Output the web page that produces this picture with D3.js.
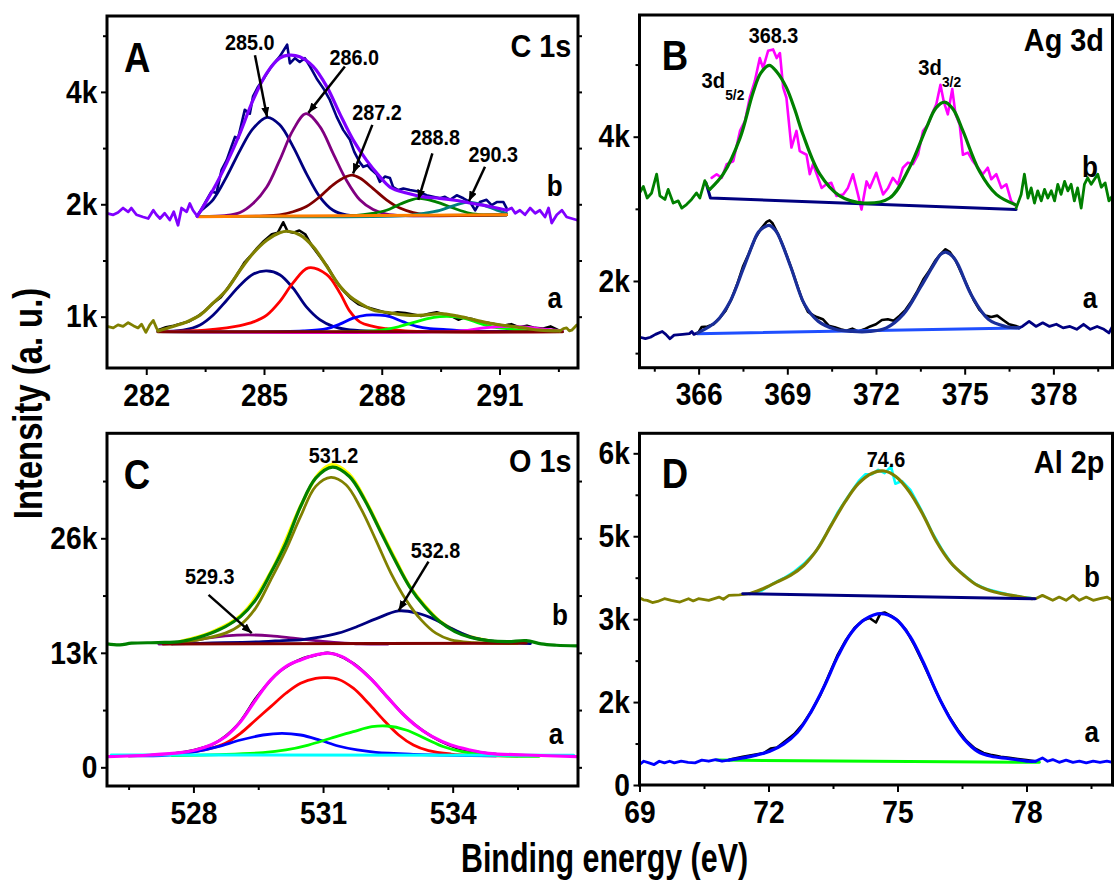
<!DOCTYPE html>
<html>
<head>
<meta charset="utf-8">
<title>XPS spectra</title>
<script src="https://cdn.jsdelivr.net/npm/d3@7"></script>
<style>
  body { margin: 0; background: #fff; }
  text { font-family: "Liberation Sans", Arial, sans-serif; font-weight: bold; fill: #000; }
</style>
</head>
<body>
<div class="chart"></div>
<script>

// ---------- C 1s (panel A), intensities in k counts ----------
var xTicksA = [282, 285, 288, 291], xMinorA = [283.5, 286.5, 289.5, 292.5];
var yTicksA = [1, 2.5, 4], yLabelsA = ["1k", "2k", "4k"], yMinorA = [1.75, 3.25, 4.75];

var c1sB_edgeL = [[281.00,2.38],[281.16,2.36],[281.28,2.39],[281.41,2.45],[281.54,2.40],[281.62,2.45],[281.75,2.36],[281.92,2.33],[282.05,2.31],[282.18,2.42],[282.26,2.36],[282.35,2.31],[282.47,2.38],[282.60,2.29],[282.70,2.40],[282.81,2.22],[282.90,2.45],[283.03,2.40],[283.11,2.51],[283.19,2.42],[283.30,2.34]];
var c1sB_edgeR = [[291.18,2.42],[291.31,2.45],[291.40,2.38],[291.52,2.42],[291.65,2.36],[291.78,2.45],[291.91,2.38],[292.03,2.42],[292.16,2.33],[292.25,2.45],[292.33,2.25],[292.46,2.36],[292.59,2.42],[292.71,2.33],[292.84,2.31],[292.97,2.29]];
var c1sB_raw = [[283.30,2.34],[283.37,2.40],[283.54,2.56],[283.66,2.67],[283.79,2.65],[283.92,2.96],[284.05,3.09],[284.17,3.27],[284.26,3.40],[284.34,3.38],[284.51,3.76],[284.64,3.71],[284.72,3.94],[284.85,4.07],[285.02,4.20],[285.19,4.34],[285.40,4.47],[285.53,4.58],[285.59,4.63],[285.66,4.38],[285.79,4.45],[285.91,4.40],[286.04,4.45],[286.17,4.34],[286.34,4.18],[286.51,4.05],[286.68,3.89],[286.85,3.67],[287.02,3.49],[287.19,3.36],[287.30,3.20],[287.44,3.06],[287.53,3.00],[287.64,3.02],[287.74,2.96],[287.87,2.90],[287.95,2.80],[288.08,2.87],[288.21,2.85],[288.29,2.73],[288.42,2.69],[288.55,2.71],[288.72,2.69],[288.93,2.67],[289.14,2.62],[289.31,2.60],[289.48,2.58],[289.61,2.60],[289.74,2.56],[289.91,2.62],[290.08,2.58],[290.25,2.53],[290.38,2.42],[290.50,2.53],[290.67,2.56],[290.80,2.49],[290.93,2.53],[291.10,2.53],[291.18,2.45]];
var c1sB_env = [[283.30,2.34],[283.37,2.40],[283.70,2.69],[284.05,3.05],[284.39,3.45],[284.72,3.89],[285.07,4.25],[285.40,4.45],[285.62,4.49],[285.91,4.47],[286.25,4.34],[286.60,4.07],[286.93,3.71],[287.27,3.36],[287.61,3.09],[287.95,2.87],[288.21,2.73],[288.63,2.65],[289.06,2.60],[289.48,2.58],[289.91,2.55],[290.33,2.51],[290.76,2.47],[291.18,2.42]];
var c1sB_base = [[283.30,2.335],[291.18,2.36]];
var c1sB_p285 = [[283.30,2.34],[283.37,2.40],[283.70,2.56],[284.05,2.87],[284.39,3.22],[284.72,3.51],[285.08,3.66],[285.40,3.56],[285.74,3.27],[286.08,2.91],[286.42,2.60],[286.76,2.42],[287.10,2.36],[287.44,2.35],[288.00,2.345],[291.18,2.36]];
var c1sB_p286 = [[283.30,2.34],[284.00,2.35],[284.39,2.39],[284.72,2.51],[285.07,2.73],[285.40,3.09],[285.74,3.49],[286.07,3.71],[286.42,3.54],[286.76,3.18],[287.10,2.82],[287.44,2.56],[287.78,2.43],[288.12,2.37],[288.60,2.35],[291.18,2.36]];
var c1sB_p287 = [[283.30,2.34],[285.00,2.345],[285.40,2.36],[285.74,2.40],[286.08,2.47],[286.42,2.60],[286.76,2.76],[287.10,2.87],[287.25,2.89],[287.44,2.85],[287.78,2.71],[288.12,2.56],[288.46,2.45],[288.80,2.39],[289.14,2.36],[289.60,2.35],[291.18,2.36]];
var c1sB_p288 = [[283.30,2.34],[287.30,2.35],[287.78,2.38],[288.12,2.42],[288.46,2.50],[288.93,2.58],[289.40,2.53],[289.82,2.45],[290.25,2.38],[290.59,2.36],[291.18,2.36]];
var c1sB_p290 = [[283.30,2.34],[288.60,2.35],[289.06,2.38],[289.48,2.42],[289.82,2.48],[290.20,2.53],[290.59,2.49],[290.93,2.42],[291.18,2.38]];

var c1sA_edgeL = [[281.00,0.87],[281.16,0.85],[281.28,0.89],[281.41,0.87],[281.54,0.92],[281.67,0.88],[281.79,0.85],[281.88,0.90],[281.99,0.79],[282.09,0.89],[282.18,0.95],[282.26,0.85],[282.30,0.81]];
var c1sA_edgeR = [[292.54,0.81],[292.63,0.84],[292.71,0.85],[292.78,0.81],[292.84,0.82],[292.97,0.89]];
var c1sA_raw = [[282.30,0.82],[282.50,0.86],[282.70,0.88],[282.90,0.91],[283.10,0.94],[283.30,1.00],[283.50,1.08],[283.70,1.18],[283.90,1.26],[284.10,1.40],[284.30,1.55],[284.50,1.72],[284.64,1.80],[284.80,1.90],[285.00,2.01],[285.20,2.10],[285.35,2.12],[285.49,2.26],[285.60,2.14],[285.75,2.12],[285.90,2.15],[286.05,2.10],[286.20,1.96],[286.40,1.82],[286.60,1.68],[286.80,1.50],[287.00,1.36],[287.20,1.25],[287.40,1.17],[287.60,1.13],[287.80,1.10],[288.00,1.07],[288.20,1.04],[288.40,1.06],[288.60,1.05],[288.80,1.03],[289.00,1.01],[289.20,1.04],[289.40,1.06],[289.60,1.03],[289.80,1.00],[289.95,0.96],[290.10,0.99],[290.30,0.97],[290.50,0.93],[290.70,0.92],[290.90,0.90],[291.10,0.88],[291.30,0.90],[291.50,0.86],[291.70,0.88],[291.90,0.85],[292.10,0.84],[292.30,0.87],[292.50,0.82]];
var c1sA_env = [[282.30,0.81],[282.68,0.87],[283.03,0.93],[283.37,1.02],[283.70,1.18],[284.05,1.36],[284.39,1.62],[284.73,1.85],[285.07,2.02],[285.40,2.12],[285.60,2.14],[285.92,2.09],[286.26,1.93],[286.60,1.67],[286.93,1.41],[287.19,1.27],[287.44,1.18],[287.78,1.09],[288.21,1.05],[288.63,1.02],[289.06,1.02],[289.48,1.04],[289.91,1.01],[290.33,0.96],[290.76,0.91],[291.18,0.88],[291.61,0.85],[292.03,0.82],[292.54,0.81]];
var c1sA_base = [[282.30,0.80],[292.60,0.80]];
var c1sA_p1 = [[282.30,0.80],[282.94,0.82],[283.37,0.89],[283.70,1.02],[284.05,1.22],[284.39,1.42],[284.73,1.57],[285.07,1.61],[285.40,1.56],[285.74,1.38],[286.08,1.13],[286.42,0.96],[286.76,0.87],[287.10,0.83],[287.60,0.81],[292.60,0.80]];
var c1sA_p2 = [[282.30,0.80],[283.50,0.82],[284.05,0.85],[284.39,0.88],[284.73,0.93],[285.07,1.02],[285.40,1.20],[285.74,1.45],[286.13,1.65],[286.60,1.56],[286.93,1.32],[287.19,1.07],[287.44,0.93],[287.78,0.87],[288.12,0.84],[288.60,0.81],[292.60,0.80]];
var c1sA_p3 = [[282.30,0.80],[286.00,0.81],[286.60,0.84],[286.93,0.90],[287.27,0.98],[287.61,1.02],[287.95,1.02],[288.21,1.00],[288.55,0.93],[288.89,0.87],[289.23,0.84],[289.57,0.83],[290.20,0.81],[292.60,0.80]];
var c1sA_p4 = [[282.30,0.80],[287.80,0.81],[288.21,0.84],[288.46,0.87],[288.80,0.92],[289.14,0.97],[289.48,1.00],[289.82,1.00],[290.16,0.97],[290.50,0.91],[290.84,0.86],[291.18,0.84],[291.70,0.81],[292.60,0.80]];
var c1sA_p5 = [[282.30,0.80],[290.00,0.81],[290.59,0.85],[291.18,0.87],[291.69,0.86],[292.20,0.83],[292.60,0.81]];

var peakTextA = ["285.0", "286.0", "287.2", "288.8", "290.3"];
var peakPosA = [[284.64,4.56],[287.30,4.36],[287.88,3.63],[289.36,3.29],[290.84,3.07]];
var arrowsA = [[284.77,4.49,285.08,3.66],[287.06,4.34,286.13,3.72],[287.76,3.56,287.27,2.91],[289.29,3.18,288.93,2.56],[290.63,3.00,290.22,2.54]];

// ---------- Ag 3d (panel B) ----------
var xTicksB = [366, 369, 372, 375, 378], xMinorB = [364.5, 367.5, 370.5, 373.5, 376.5, 379.5];
var yTicksB = [2, 4], yLabelsB = ["2k", "4k"], yMinorB = [1, 3, 5];

var ag3dB_edgeL = [[364.00,3.22],[364.13,3.31],[364.26,3.15],[364.41,3.22],[364.58,3.48],[364.69,3.18],[364.86,3.13],[364.97,3.27],[365.14,3.08],[365.31,3.11],[365.43,3.01],[365.59,3.06],[365.76,3.13],[365.93,3.22],[366.04,3.15],[366.21,3.39],[366.32,3.29],[366.38,3.27]];
var ag3dB_raw = [[366.44,3.43],[366.61,3.48],[366.78,3.43],[366.95,3.62],[367.17,3.66],[367.40,4.08],[367.57,4.22],[367.73,4.54],[367.90,4.77],[368.07,5.09],[368.18,4.95],[368.35,5.19],[368.52,5.21],[368.64,5.09],[368.75,5.16],[368.86,4.68],[368.97,4.54],[369.14,3.85],[369.31,4.08],[369.42,3.80],[369.65,3.75],[369.76,3.48],[369.87,3.62],[370.04,3.43],[370.16,3.29],[370.32,3.34],[370.49,3.36],[370.66,3.18],[370.89,3.20],[371.05,3.29],[371.22,3.48],[371.39,3.20],[371.51,2.99],[371.68,3.38],[371.79,3.29],[372.01,3.50],[372.13,3.34],[372.24,3.20],[372.41,3.29],[372.57,3.43],[372.74,3.34],[372.91,3.57],[373.08,3.64],[373.25,3.62],[373.42,3.75],[373.59,4.08],[373.76,4.17],[373.93,4.35],[374.04,4.45],[374.18,4.72],[374.29,4.49],[374.43,4.31],[374.58,4.66],[374.69,4.31],[374.83,4.17],[374.94,3.75],[375.11,3.78],[375.28,3.66],[375.45,3.57],[375.61,3.48],[375.78,3.57],[375.90,3.41],[376.07,3.48],[376.24,3.29],[376.41,3.34],[376.57,3.11],[376.70,3.05]];
var ag3dB_fit = [[366.38,3.27],[366.83,3.48],[367.40,3.98],[367.84,4.61],[368.10,4.88],[368.39,4.99],[368.64,4.90],[368.97,4.68],[369.25,4.38],[369.53,4.03],[370.10,3.48],[370.77,3.18],[371.60,3.08],[372.46,3.15],[373.13,3.57],[373.70,4.12],[374.03,4.40],[374.32,4.48],[374.61,4.38],[374.94,4.08],[375.50,3.52],[376.07,3.20],[376.70,3.06]];
var ag3dB_edgeR = [[376.74,3.01],[376.91,3.20],[377.02,3.48],[377.14,3.15],[377.25,3.29],[377.36,3.08],[377.47,3.25],[377.59,3.11],[377.70,3.27],[377.81,3.15],[377.93,3.25],[378.04,3.11],[378.15,3.34],[378.26,3.20],[378.38,3.38],[378.49,3.25],[378.60,3.34],[378.71,3.11],[378.82,3.29],[378.94,3.01],[379.05,3.34],[379.16,3.43],[379.28,3.34],[379.39,3.41],[379.50,3.48],[379.62,3.30],[379.75,3.36],[379.88,3.11],[380.00,3.18]];
var ag3dB_base = [[366.25,3.36],[366.40,3.15],[376.74,2.99]];

var ag3dA_edgeL = [[364.02,1.22],[364.20,1.20],[364.37,1.22],[364.54,1.26],[364.77,1.30],[364.89,1.26],[365.03,1.20],[365.17,1.25],[365.46,1.26],[365.69,1.27],[365.77,1.30],[365.84,1.26],[365.95,1.28]];
var ag3dA_raw = [[366.00,1.29],[366.10,1.36],[366.30,1.37],[366.50,1.40],[366.70,1.48],[366.90,1.58],[367.10,1.74],[367.30,1.95],[367.50,2.20],[367.70,2.38],[367.90,2.58],[368.10,2.72],[368.30,2.82],[368.40,2.84],[368.50,2.80],[368.70,2.64],[368.90,2.44],[369.10,2.22],[369.30,1.98],[369.50,1.74],[369.70,1.57],[369.90,1.52],[370.00,1.50],[370.20,1.47],[370.40,1.38],[370.60,1.36],[370.80,1.33],[371.00,1.31],[371.20,1.34],[371.40,1.30],[371.60,1.33],[371.80,1.37],[372.00,1.40],[372.20,1.46],[372.40,1.47],[372.60,1.45],[372.80,1.52],[373.00,1.60],[373.20,1.72],[373.40,1.86],[373.60,2.02],[373.80,2.14],[374.00,2.28],[374.20,2.38],[374.35,2.44],[374.50,2.40],[374.70,2.28],[374.90,2.10],[375.10,1.92],[375.30,1.74],[375.50,1.60],[375.70,1.52],[375.90,1.50],[376.10,1.52],[376.30,1.46],[376.50,1.40],[376.70,1.38],[376.85,1.36]];
var ag3dA_fit = [[365.97,1.28],[366.60,1.44],[367.07,1.72],[367.52,2.18],[367.98,2.65],[368.10,2.71],[368.39,2.77],[368.62,2.69],[368.79,2.55],[369.13,2.18],[369.59,1.67],[370.05,1.44],[370.63,1.33],[371.20,1.30],[371.78,1.30],[372.35,1.35],[372.93,1.54],[373.50,1.91],[373.96,2.23],[374.19,2.37],[374.36,2.40],[374.59,2.34],[374.77,2.23],[375.22,1.81],[375.80,1.47],[376.38,1.37],[376.83,1.35]];
var ag3dA_edgeR = [[376.83,1.35],[376.95,1.37],[377.18,1.44],[377.41,1.37],[377.64,1.42],[377.87,1.37],[378.10,1.40],[378.33,1.35],[378.56,1.37],[378.79,1.33],[379.02,1.40],[379.25,1.33],[379.48,1.37],[379.71,1.33],[379.88,1.28],[380.00,1.37]];
var ag3dA_base = [[365.95,1.27],[376.85,1.35]];

// ---------- O 1s (panel C) ----------
var xTicksC = [528, 531, 534], xMinorC = [526.5, 529.5, 532.5, 535.5];
var yTicksC = [0, 13, 26], yLabelsC = ["0", "13k", "26k"], yMinorC = [6.5, 19.5, 32.5];

var o1sB_raw = [[527.70,14.30],[528.40,15.30],[529.10,17.25],[529.80,22.25],[530.50,29.85],[530.90,33.35],[531.20,34.35],[531.60,33.30],[532.00,30.15],[532.30,27.20],[532.70,23.35],[533.00,20.60],[533.40,18.10],[533.70,16.60],[534.10,15.40],[534.40,14.85],[534.80,14.40]];
var o1sB_env = [[526.00,14.01],[526.30,13.90],[526.57,14.09],[527.18,14.16],[527.70,14.27],[528.05,14.66],[528.40,15.23],[528.74,15.98],[529.09,17.11],[529.44,19.01],[529.79,22.05],[530.14,25.46],[530.48,29.61],[530.83,32.84],[531.22,34.09],[531.61,33.02],[531.96,30.38],[532.31,26.97],[532.66,23.56],[533.00,20.52],[533.35,18.25],[533.70,16.55],[534.05,15.41],[534.40,14.77],[534.83,14.39],[535.27,14.27],[535.70,14.39],[536.05,14.01],[536.40,13.86],[536.89,13.78]];
var o1sB_p531 = [[527.50,14.02],[528.05,14.40],[528.74,15.23],[529.09,16.17],[529.44,18.07],[529.79,21.28],[530.14,24.69],[530.48,28.48],[530.83,31.89],[531.18,32.91],[531.53,32.08],[531.87,29.43],[532.22,25.83],[532.57,22.05],[532.92,19.01],[533.27,16.74],[533.61,15.23],[533.96,14.47],[534.48,14.16],[534.83,14.09],[535.50,14.05]];
var o1sB_p532 = [[527.50,14.02],[529.61,14.27],[530.06,14.39],[530.48,14.47],[530.92,14.77],[531.35,15.23],[531.79,15.98],[532.22,16.85],[532.75,17.76],[533.18,17.50],[533.61,16.74],[533.96,15.80],[534.40,14.84],[534.83,14.39],[535.27,14.16],[535.80,14.05]];
var o1sB_p529 = [[527.20,14.00],[527.44,14.05],[527.87,14.27],[528.31,14.66],[528.74,14.92],[529.27,15.03],[529.79,14.92],[530.31,14.66],[530.83,14.39],[531.35,14.16],[531.87,14.01],[532.50,13.98]];
var o1sB_base = [[527.30,14.00],[535.70,14.10]];

var o1sA_raw = [[527.50,1.55],[528.00,1.95],[528.50,2.75],[529.00,4.70],[529.50,8.20],[530.00,10.90],[530.50,12.30],[530.90,12.80],[531.10,13.00],[531.30,12.80],[531.70,11.80],[532.10,10.10],[532.50,7.90],[532.90,5.80],[533.30,4.20],[533.70,3.00],[534.10,2.20],[534.50,1.80],[535.00,1.50]];
var o1sA_env = [[526.00,1.21],[527.00,1.40],[527.70,1.66],[528.05,1.97],[528.40,2.53],[528.74,3.48],[529.09,5.18],[529.44,7.65],[529.79,9.92],[530.14,11.43],[530.48,12.19],[530.83,12.76],[531.14,12.95],[531.44,12.57],[531.79,11.43],[532.13,9.92],[532.48,8.02],[532.83,6.14],[533.18,4.61],[533.53,3.48],[533.96,2.53],[534.40,1.97],[534.83,1.59],[535.70,1.40],[536.89,1.21]];
var o1sA_p1 = [[526.50,1.30],[527.70,1.59],[528.40,2.16],[528.74,2.73],[529.09,3.86],[529.44,5.38],[529.79,6.89],[530.14,8.41],[530.48,9.55],[530.83,10.11],[531.09,10.18],[531.35,10.00],[531.70,8.98],[532.05,7.27],[532.40,5.38],[532.75,3.67],[533.09,2.53],[533.44,1.89],[533.96,1.51],[534.48,1.36],[535.50,1.30]];
var o1sA_p2 = [[526.50,1.30],[527.44,1.40],[528.05,1.77],[528.57,2.34],[529.09,3.10],[529.61,3.67],[530.05,3.86],[530.48,3.67],[530.92,3.10],[531.35,2.42],[531.79,1.97],[532.22,1.70],[533.09,1.48],[534.00,1.36],[535.00,1.30]];
var o1sA_p3 = [[527.50,1.34],[528.60,1.45],[529.61,1.66],[530.14,1.97],[530.66,2.53],[531.18,3.30],[531.70,4.05],[532.13,4.61],[532.48,4.69],[532.92,4.24],[533.35,3.30],[533.79,2.34],[534.22,1.77],[534.66,1.48],[535.27,1.28],[536.00,1.25]];
var o1sA_base = [[526.10,1.40],[536.80,1.36]];

var peakTextC = ["531.2", "529.3", "532.8"];
var peakPosC = [[531.24,34.58],[528.38,20.78],[533.60,23.80]];
var arrowsC = [[528.35,19.58,529.35,15.23],[533.44,23.36,532.75,17.80]];

// ---------- Al 2p (panel D) ----------
var xTicksD = [69, 72, 75, 78], xMinorD = [70.5, 73.5, 76.5, 79.5];
var yTicksD = [0, 1.5, 3, 4.5, 6], yLabelsD = ["0", "2k", "3k", "5k", "6k"], yMinorD = [0.75, 2.25, 3.75, 5.25];

var al2pB_edgeL = [[69.00,3.39],[69.09,3.35],[69.18,3.34],[69.30,3.30],[69.42,3.32],[69.58,3.37],[69.74,3.34],[69.94,3.31],[70.14,3.37],[70.25,3.33],[70.37,3.37],[70.61,3.34],[70.85,3.40],[70.95,3.36],[71.08,3.43],[71.32,3.44],[71.56,3.46]];
var al2pB_raw = [[71.60,3.47],[71.85,3.52],[72.10,3.64],[72.35,3.74],[72.60,3.86],[72.85,4.02],[73.10,4.22],[73.35,4.55],[73.60,4.92],[73.85,5.22],[74.10,5.50],[74.25,5.62],[74.40,5.62],[74.55,5.70],[74.70,5.64],[74.85,5.76],[74.95,5.45],[75.10,5.50],[75.30,5.34],[75.55,4.98],[75.80,4.58],[76.05,4.24],[76.30,3.96],[76.55,3.80],[76.80,3.64],[77.05,3.55],[77.30,3.50],[77.60,3.44],[77.90,3.40],[78.10,3.38]];
var al2pB_fit = [[71.56,3.46],[71.87,3.55],[72.19,3.67],[72.51,3.79],[72.82,3.97],[73.14,4.27],[73.46,4.70],[73.78,5.12],[74.09,5.45],[74.41,5.64],[74.69,5.68],[74.96,5.58],[75.28,5.30],[75.60,4.88],[75.91,4.40],[76.23,4.03],[76.55,3.79],[76.86,3.61],[77.26,3.49],[77.66,3.43],[78.13,3.37]];
var al2pB_edgeR = [[78.13,3.37],[78.21,3.37],[78.37,3.43],[78.61,3.34],[78.76,3.40],[78.92,3.34],[79.08,3.43],[79.23,3.34],[79.39,3.40],[79.55,3.34],[79.71,3.37],[79.87,3.40],[80.00,3.34]];
var al2pB_base = [[71.40,3.46],[78.20,3.37]];

var al2pA_edgeL = [[69.00,0.37],[69.10,0.43],[69.22,0.40],[69.34,0.37],[69.46,0.43],[69.58,0.40],[69.70,0.43],[69.81,0.40],[69.97,0.43],[70.13,0.41],[70.29,0.40],[70.45,0.45],[70.61,0.43],[70.77,0.46],[70.92,0.43],[71.08,0.45]];
var al2pA_raw = [[71.10,0.46],[71.40,0.51],[71.70,0.55],[71.90,0.58],[72.05,0.66],[72.20,0.68],[72.40,0.80],[72.60,0.92],[72.80,1.10],[73.00,1.34],[73.20,1.62],[73.40,1.98],[73.60,2.34],[73.80,2.62],[74.00,2.84],[74.20,2.98],[74.35,3.02],[74.50,2.94],[74.60,3.10],[74.70,3.12],[74.85,3.06],[75.00,2.98],[75.20,2.80],[75.40,2.52],[75.60,2.20],[75.80,1.86],[76.00,1.52],[76.20,1.24],[76.40,1.00],[76.60,0.80],[76.80,0.66],[77.00,0.58],[77.20,0.54],[77.40,0.51],[77.60,0.49],[77.80,0.47],[78.00,0.45],[78.20,0.43]];
var al2pA_fit = [[71.08,0.45],[71.40,0.49],[71.72,0.54],[72.03,0.61],[72.35,0.74],[72.67,0.95],[72.98,1.31],[73.30,1.79],[73.62,2.34],[73.93,2.76],[74.25,3.00],[74.61,3.10],[74.96,3.00],[75.28,2.70],[75.60,2.22],[75.91,1.67],[76.23,1.19],[76.55,0.83],[76.86,0.61],[77.18,0.52],[77.57,0.48],[78.05,0.43],[78.21,0.43]];
var al2pA_edgeR = [[78.21,0.43],[78.37,0.49],[78.49,0.43],[78.61,0.46],[78.76,0.41],[78.92,0.45],[79.08,0.41],[79.23,0.43],[79.39,0.40],[79.55,0.43],[79.71,0.41],[79.87,0.43],[80.00,0.41]];
var al2pA_base = [[70.80,0.45],[78.30,0.41]];

// ---------- drawing ----------
var W = 1114, H = 881;
var svg = d3.select(".chart").append("svg").attr("width", W).attr("height", H);

svg.append("defs").append("marker")
	.attr("id", "arrowhead")
	.attr("viewBox", "0 0 10 8")
	.attr("refX", 10).attr("refY", 4)
	.attr("markerWidth", 10).attr("markerHeight", 8)
	.attr("markerUnits", "userSpaceOnUse")
	.attr("orient", "auto")
	.append("path").attr("d", "M0,0L10,4L0,8Z").attr("fill", "#000");

// text squeezed horizontally like the original figure
function addText(parent, px, py, str, size, sx, anchor) {
	return parent.append("text")
		.attr("transform", "translate(" + px + "," + py + ") scale(" + sx + ",1)")
		.attr("text-anchor", anchor || "start")
		.style("font-size", size + "px")
		.text(str);
}

function drawPanel(p) {
	var x = d3.scaleLinear().domain(p.xDomain).range([p.left, p.right]);
	var y = d3.scaleLinear().domain(p.yDomain).range([p.bottom, p.top]);
	var g = svg.append("g");

	g.append("clipPath").attr("id", "clip" + p.id).append("rect")
		.attr("x", p.left).attr("y", p.top)
		.attr("width", p.right - p.left).attr("height", p.bottom - p.top);
	var plot = g.append("g").attr("clip-path", "url(#clip" + p.id + ")");

	var smooth = d3.line().x(function(d){ return x(d[0]); }).y(function(d){ return y(d[1]); })
		.curve(d3.curveCatmullRom.alpha(0.5));
	var rough = d3.line().x(function(d){ return x(d[0]); }).y(function(d){ return y(d[1]); });

	p.series.forEach(function(s) {
		plot.append("path")
			.attr("d", (s.smooth ? smooth : rough)(s.data))
			.attr("fill", "none")
			.attr("stroke", s.color)
			.attr("stroke-width", s.width)
			.attr("stroke-linejoin", "round")
			.attr("stroke-linecap", "round");
	});

	// arrows pointing at the fitted peaks
	(p.arrows || []).forEach(function(a) {
		g.append("line")
			.attr("x1", x(a[0])).attr("y1", y(a[1]))
			.attr("x2", x(a[2])).attr("y2", y(a[3]))
			.attr("stroke", "#000").attr("stroke-width", 2.5)
			.attr("marker-end", "url(#arrowhead)");
	});

	function tidy(sel) {
		sel.select(".domain").remove();
		sel.selectAll(".tick line").attr("stroke", "#000").attr("stroke-width", 2);
		sel.selectAll(".tick text").style("font-size", "32px").attr("fill", "#000")
			.attr("transform", "scale(0.88,1)");
	}

	g.append("g").attr("transform", "translate(0," + p.bottom + ")")
		.call(d3.axisBottom(x).tickValues(p.xTicks).tickSize(7).tickPadding(8).tickFormat(d3.format("d")))
		.call(tidy);
	g.append("g").attr("transform", "translate(0," + p.bottom + ")")
		.call(d3.axisBottom(x).tickValues(p.xMinor).tickSize(4).tickFormat(""))
		.call(tidy);
	g.append("g").attr("transform", "translate(" + p.left + ",0)")
		.call(d3.axisLeft(y).tickValues(p.yTicks).tickSize(6).tickPadding(5)
			.tickFormat(function(d, i){ return p.yLabels[i]; }))
		.call(tidy);
	g.append("g").attr("transform", "translate(" + p.left + ",0)")
		.call(d3.axisLeft(y).tickValues(p.yMinor).tickSize(4).tickFormat(""))
		.call(tidy);
	g.append("g").attr("transform", "translate(" + p.right + ",0)")
		.call(d3.axisRight(y).tickValues(p.yTicks.concat(p.yMinor)).tickSize(4).tickFormat(""))
		.call(tidy);

	g.append("rect")
		.attr("x", p.left).attr("y", p.top)
		.attr("width", p.right - p.left).attr("height", p.bottom - p.top)
		.attr("fill", "none").attr("stroke", "#000").attr("stroke-width", 3);

	// panel letter, element label, curve letters
	addText(g, x(p.letter[1]), y(p.letter[2]), p.letter[0], 43, 0.85, "start");
	addText(g, x(p.element[1]), y(p.element[2]), p.element[0], 31, 0.93, "end");
	p.curveTags.forEach(function(t) {
		addText(g, x(t[1]), y(t[2]), t[0], 29, 0.9, "middle");
	});
	(p.peakText || []).forEach(function(t, i) {
		addText(g, x(p.peakPos[i][0]), y(p.peakPos[i][1]), t, 22, 0.9, "middle");
	});
	return {x: x, y: y, g: g};
}

drawPanel({
	id: "A", left: 107, right: 578, top: 16, bottom: 368,
	xDomain: [281, 293], yDomain: [0.315, 5.013],
	xTicks: xTicksA, xMinor: xMinorA, yTicks: yTicksA, yLabels: yLabelsA, yMinor: yMinorA,
	series: [
		{data: c1sB_raw, color: "#000080", width: 2.6},
		{data: c1sB_p285, color: "#000080", width: 2.8, smooth: true},
		{data: c1sB_p286, color: "#800080", width: 2.8, smooth: true},
		{data: c1sB_p287, color: "#800000", width: 2.8, smooth: true},
		{data: c1sB_p288, color: "#008000", width: 2.8, smooth: true},
		{data: c1sB_p290, color: "#008080", width: 2.8, smooth: true},
		{data: c1sB_base, color: "#ff8000", width: 3},
		{data: c1sB_edgeL, color: "#8000ff", width: 2.8},
		{data: c1sB_edgeR, color: "#8000ff", width: 2.8},
		{data: c1sB_env, color: "#8000ff", width: 3.2, smooth: true},
		{data: c1sA_raw, color: "#000000", width: 2.6},
		{data: c1sA_p1, color: "#000080", width: 2.8, smooth: true},
		{data: c1sA_p2, color: "#ff0000", width: 2.8, smooth: true},
		{data: c1sA_p3, color: "#0000ff", width: 2.8, smooth: true},
		{data: c1sA_p4, color: "#00ff00", width: 2.8, smooth: true},
		{data: c1sA_p5, color: "#ff00ff", width: 2.8, smooth: true},
		{data: c1sA_base, color: "#800000", width: 3},
		{data: c1sA_edgeL, color: "#808000", width: 2.8},
		{data: c1sA_edgeR, color: "#808000", width: 2.8},
		{data: c1sA_env, color: "#808000", width: 3.2, smooth: true}
	],
	arrows: arrowsA,
	letter: ["A", 281.43, 4.27], element: ["C 1s", 292.83, 4.47],
	curveTags: [["b", 292.41, 2.61], ["a", 292.41, 1.116]],
	peakText: peakTextA, peakPos: peakPosA
});

var panelB = drawPanel({
	id: "B", left: 639.5, right: 1112.5, top: 15, bottom: 367.7,
	xDomain: [364, 380], yDomain: [0.798, 5.687],
	xTicks: xTicksB, xMinor: xMinorB, yTicks: yTicksB, yLabels: yLabelsB, yMinor: yMinorB,
	series: [
		{data: ag3dB_raw, color: "#ff00ff", width: 2.6},
		{data: ag3dB_base, color: "#000080", width: 3},
		{data: ag3dB_edgeL, color: "#008000", width: 2.8},
		{data: ag3dB_edgeR, color: "#008000", width: 2.8},
		{data: ag3dB_fit, color: "#008000", width: 3.2, smooth: true},
		{data: ag3dA_raw, color: "#000000", width: 2.6},
		{data: ag3dA_base, color: "#1f4fff", width: 3},
		{data: ag3dA_edgeL, color: "#000080", width: 2.8},
		{data: ag3dA_edgeR, color: "#000080", width: 2.8},
		{data: ag3dA_fit, color: "#1a2f9a", width: 3.2, smooth: true}
	],
	letter: ["B", 364.75, 4.925], element: ["Ag 3d", 379.71, 5.188],
	curveTags: [["b", 379.24, 3.446], ["a", 379.24, 1.626]],
	peakText: ["368.3"], peakPos: [[368.53, 5.299]]
});
// spin-orbit labels with subscripts
[["3d", "5/2", 366.10, 4.671], ["3d", "3/2", 373.43, 4.855]].forEach(function(t) {
	var tx = addText(panelB.g, panelB.x(t[2]), panelB.y(t[3]), t[0], 22, 0.92, "start");
	tx.append("tspan").attr("dy", 12).style("font-size", "15px").text(t[1]);
});

drawPanel({
	id: "C", left: 107, right: 578, top: 433.3, bottom: 786,
	xDomain: [526, 536.9], yDomain: [-2.12, 37.92],
	xTicks: xTicksC, xMinor: xMinorC, yTicks: yTicksC, yLabels: yLabelsC, yMinor: yMinorC,
	series: [
		{data: o1sB_raw, color: "#ffff00", width: 3.4, smooth: true},
		{data: o1sB_p529, color: "#800080", width: 2.8, smooth: true},
		{data: o1sB_p532, color: "#000080", width: 2.8, smooth: true},
		{data: o1sB_p531, color: "#808000", width: 2.8, smooth: true},
		{data: o1sB_base, color: "#800000", width: 3},
		{data: o1sB_env, color: "#008000", width: 3.2, smooth: true},
		{data: o1sA_raw, color: "#000000", width: 2.6, smooth: true},
		{data: o1sA_p1, color: "#ff0000", width: 2.8, smooth: true},
		{data: o1sA_p2, color: "#0000ff", width: 2.8, smooth: true},
		{data: o1sA_p3, color: "#00ff00", width: 2.8, smooth: true},
		{data: o1sA_base, color: "#00ffff", width: 3},
		{data: o1sA_env, color: "#ff00ff", width: 3.2, smooth: true}
	],
	arrows: arrowsC,
	letter: ["C", 526.39, 31.60], element: ["O 1s", 536.75, 33.56],
	curveTags: [["b", 536.48, 16.16], ["a", 536.39, 2.65]],
	peakText: peakTextC, peakPos: peakPosC
});

drawPanel({
	id: "D", left: 639.5, right: 1112.5, top: 433.3, bottom: 785,
	xDomain: [69, 80], yDomain: [0, 6.362],
	xTicks: xTicksD, xMinor: xMinorD, yTicks: yTicksD, yLabels: yLabelsD, yMinor: yMinorD,
	series: [
		{data: al2pB_raw, color: "#00ffff", width: 2.6},
		{data: al2pB_edgeL, color: "#808000", width: 2.8},
		{data: al2pB_edgeR, color: "#808000", width: 2.8},
		{data: al2pB_fit, color: "#808000", width: 3.2, smooth: true},
		{data: al2pB_base, color: "#000080", width: 3},
		{data: al2pA_raw, color: "#000000", width: 2.6},
		{data: al2pA_base, color: "#00ff00", width: 3},
		{data: al2pA_edgeL, color: "#0000ff", width: 2.8},
		{data: al2pA_edgeR, color: "#0000ff", width: 2.8},
		{data: al2pA_fit, color: "#0000ff", width: 3.2, smooth: true}
	],
	letter: ["D", 69.52, 5.367], element: ["Al 2p", 79.81, 5.638],
	curveTags: [["b", 79.52, 3.587], ["a", 79.52, 0.783]],
	peakText: ["74.6"], peakPos: [[74.73, 5.758]]
});

// shared axis titles
svg.append("text")
	.attr("transform", "translate(42,403.5) rotate(-90) scale(0.82,1)")
	.attr("text-anchor", "middle")
	.style("font-size", "40px")
	.text("Intensity (a. u.)");
addText(svg, 604.5, 872, "Binding energy (eV)", 40, 0.76, "middle");

</script>
</body>
</html>
